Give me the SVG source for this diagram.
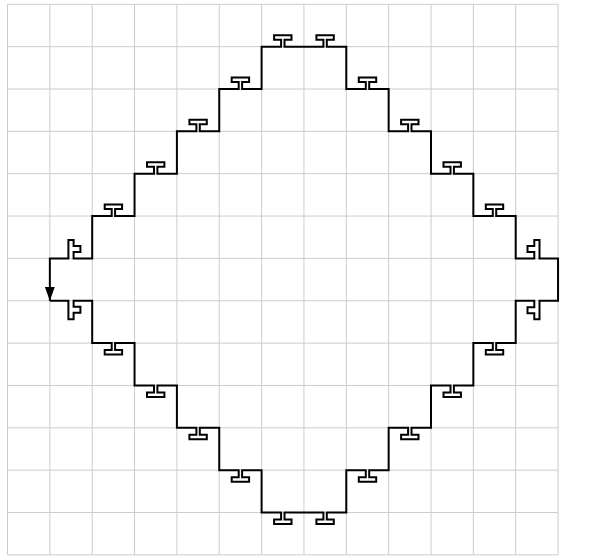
<svg xmlns="http://www.w3.org/2000/svg" width="591" height="556" viewBox="0 0 591 556">
<style>
.grid{stroke:#cccccc;stroke-width:1;fill:none}
.curve{stroke:#000;stroke-width:2;fill:none;stroke-linejoin:miter}
</style>
<defs>
<marker id="arr" viewBox="0 0 14 10" refX="14" refY="5" markerWidth="14" markerHeight="10" markerUnits="userSpaceOnUse" orient="auto"><path d="M0,0 L14,5 L0,10 z" fill="#000"/></marker>
</defs>
<rect width="591" height="556" fill="#fff"/>
<g id="grid" class="grid">
<path d="M7.5 4.3V554.85M49.85 4.3V554.85M92.2 4.3V554.85M134.55 4.3V554.85M176.9 4.3V554.85M219.25 4.3V554.85M261.6 4.3V554.85M303.95 4.3V554.85M346.3 4.3V554.85M388.65 4.3V554.85M431 4.3V554.85M473.35 4.3V554.85M515.7 4.3V554.85M558.05 4.3V554.85"/>
<path d="M7.5 4.3H558.05M7.5 46.65H558.05M7.5 89H558.05M7.5 131.35H558.05M7.5 173.7H558.05M7.5 216.05H558.05M7.5 258.4H558.05M7.5 300.75H558.05M7.5 343.1H558.05M7.5 385.45H558.05M7.5 427.8H558.05M7.5 470.15H558.05M7.5 512.5H558.05M7.5 554.85H558.05"/>
</g>
<g id="connectors">
<path id="curve" class="curve" marker-end="url(#arr)" d="M49.85 300.75
L68.4 300.75 L68.4 319.25 L73.6 319.25 L73.6 312.75 L80.4 312.75 L80.4 306.75 L73.6 306.75 L73.6 300.75 L92.2 300.75
L92.2 343.1
L111.7 343.1 L111.7 350.1 L104.7 350.1 L104.7 354.6 L122.1 354.6 L122.1 350.1 L115.1 350.1 L115.1 343.1 L134.55 343.1
L134.55 385.45
L154 385.45 L154 392.45 L147 392.45 L147 396.95 L164.4 396.95 L164.4 392.45 L157.4 392.45 L157.4 385.45 L176.9 385.45
L176.9 427.8
L196.4 427.8 L196.4 434.8 L189.4 434.8 L189.4 439.3 L206.8 439.3 L206.8 434.8 L199.8 434.8 L199.8 427.8 L219.25 427.8
L219.25 470.15
L238.7 470.15 L238.7 477.15 L231.7 477.15 L231.7 481.65 L249.1 481.65 L249.1 477.15 L242.1 477.15 L242.1 470.15 L261.6 470.15
L261.6 512.5
L281.1 512.5 L281.1 519.5 L274.1 519.5 L274.1 524 L291.5 524 L291.5 519.5 L284.5 519.5 L284.5 512.5
L323.4 512.5 L323.4 519.5 L316.4 519.5 L316.4 524 L333.8 524 L333.8 519.5 L326.8 519.5 L326.8 512.5 L346.3 512.5
L346.3 470.15
L365.8 470.15 L365.8 477.15 L358.8 477.15 L358.8 481.65 L376.2 481.65 L376.2 477.15 L369.2 477.15 L369.2 470.15 L388.65 470.15
L388.65 427.8
L408.1 427.8 L408.1 434.8 L401.1 434.8 L401.1 439.3 L418.5 439.3 L418.5 434.8 L411.5 434.8 L411.5 427.8 L431 427.8
L431 385.45
L450.5 385.45 L450.5 392.45 L443.5 392.45 L443.5 396.95 L460.9 396.95 L460.9 392.45 L453.9 392.45 L453.9 385.45 L473.35 385.45
L473.35 343.1
L492.8 343.1 L492.8 350.1 L485.8 350.1 L485.8 354.6 L503.2 354.6 L503.2 350.1 L496.2 350.1 L496.2 343.1 L515.7 343.1
L515.7 300.75
L534.3 300.75 L534.3 307.25 L527.5 307.25 L527.5 313.25 L534.3 313.25 L534.3 319.25 L539.5 319.25 L539.5 300.75 L558.05 300.75
L558.05 258.4
L539.5 258.4 L539.5 239.9 L534.3 239.9 L534.3 245.9 L527.5 245.9 L527.5 251.9 L534.3 251.9 L534.3 258.4 L515.7 258.4
L515.7 216.05
L496.2 216.05 L496.2 209.05 L503.2 209.05 L503.2 204.55 L485.8 204.55 L485.8 209.05 L492.8 209.05 L492.8 216.05 L473.35 216.05
L473.35 173.7
L453.9 173.7 L453.9 166.7 L460.9 166.7 L460.9 162.2 L443.5 162.2 L443.5 166.7 L450.5 166.7 L450.5 173.7 L431 173.7
L431 131.35
L411.5 131.35 L411.5 124.35 L418.5 124.35 L418.5 119.85 L401.1 119.85 L401.1 124.35 L408.1 124.35 L408.1 131.35 L388.65 131.35
L388.65 89
L369.2 89 L369.2 82 L376.2 82 L376.2 77.5 L358.8 77.5 L358.8 82 L365.8 82 L365.8 89 L346.3 89
L346.3 46.65
L326.8 46.65 L326.8 39.65 L333.8 39.65 L333.8 35.15 L316.4 35.15 L316.4 39.65 L323.4 39.65 L323.4 46.65
L284.5 46.65 L284.5 39.65 L291.5 39.65 L291.5 35.15 L274.1 35.15 L274.1 39.65 L281.1 39.65 L281.1 46.65 L261.6 46.65
L261.6 89
L242.1 89 L242.1 82 L249.1 82 L249.1 77.5 L231.7 77.5 L231.7 82 L238.7 82 L238.7 89 L219.25 89
L219.25 131.35
L199.8 131.35 L199.8 124.35 L206.8 124.35 L206.8 119.85 L189.4 119.85 L189.4 124.35 L196.4 124.35 L196.4 131.35 L176.9 131.35
L176.9 173.7
L157.4 173.7 L157.4 166.7 L164.4 166.7 L164.4 162.2 L147 162.2 L147 166.7 L154 166.7 L154 173.7 L134.55 173.7
L134.55 216.05
L115.1 216.05 L115.1 209.05 L122.1 209.05 L122.1 204.55 L104.7 204.55 L104.7 209.05 L111.7 209.05 L111.7 216.05 L92.2 216.05
L92.2 258.4
L73.6 258.4 L73.6 251.9 L80.4 251.9 L80.4 245.9 L73.6 245.9 L73.6 239.9 L68.4 239.9 L68.4 258.4 L49.85 258.4
L49.85 300.75"/>
</g>
</svg>
